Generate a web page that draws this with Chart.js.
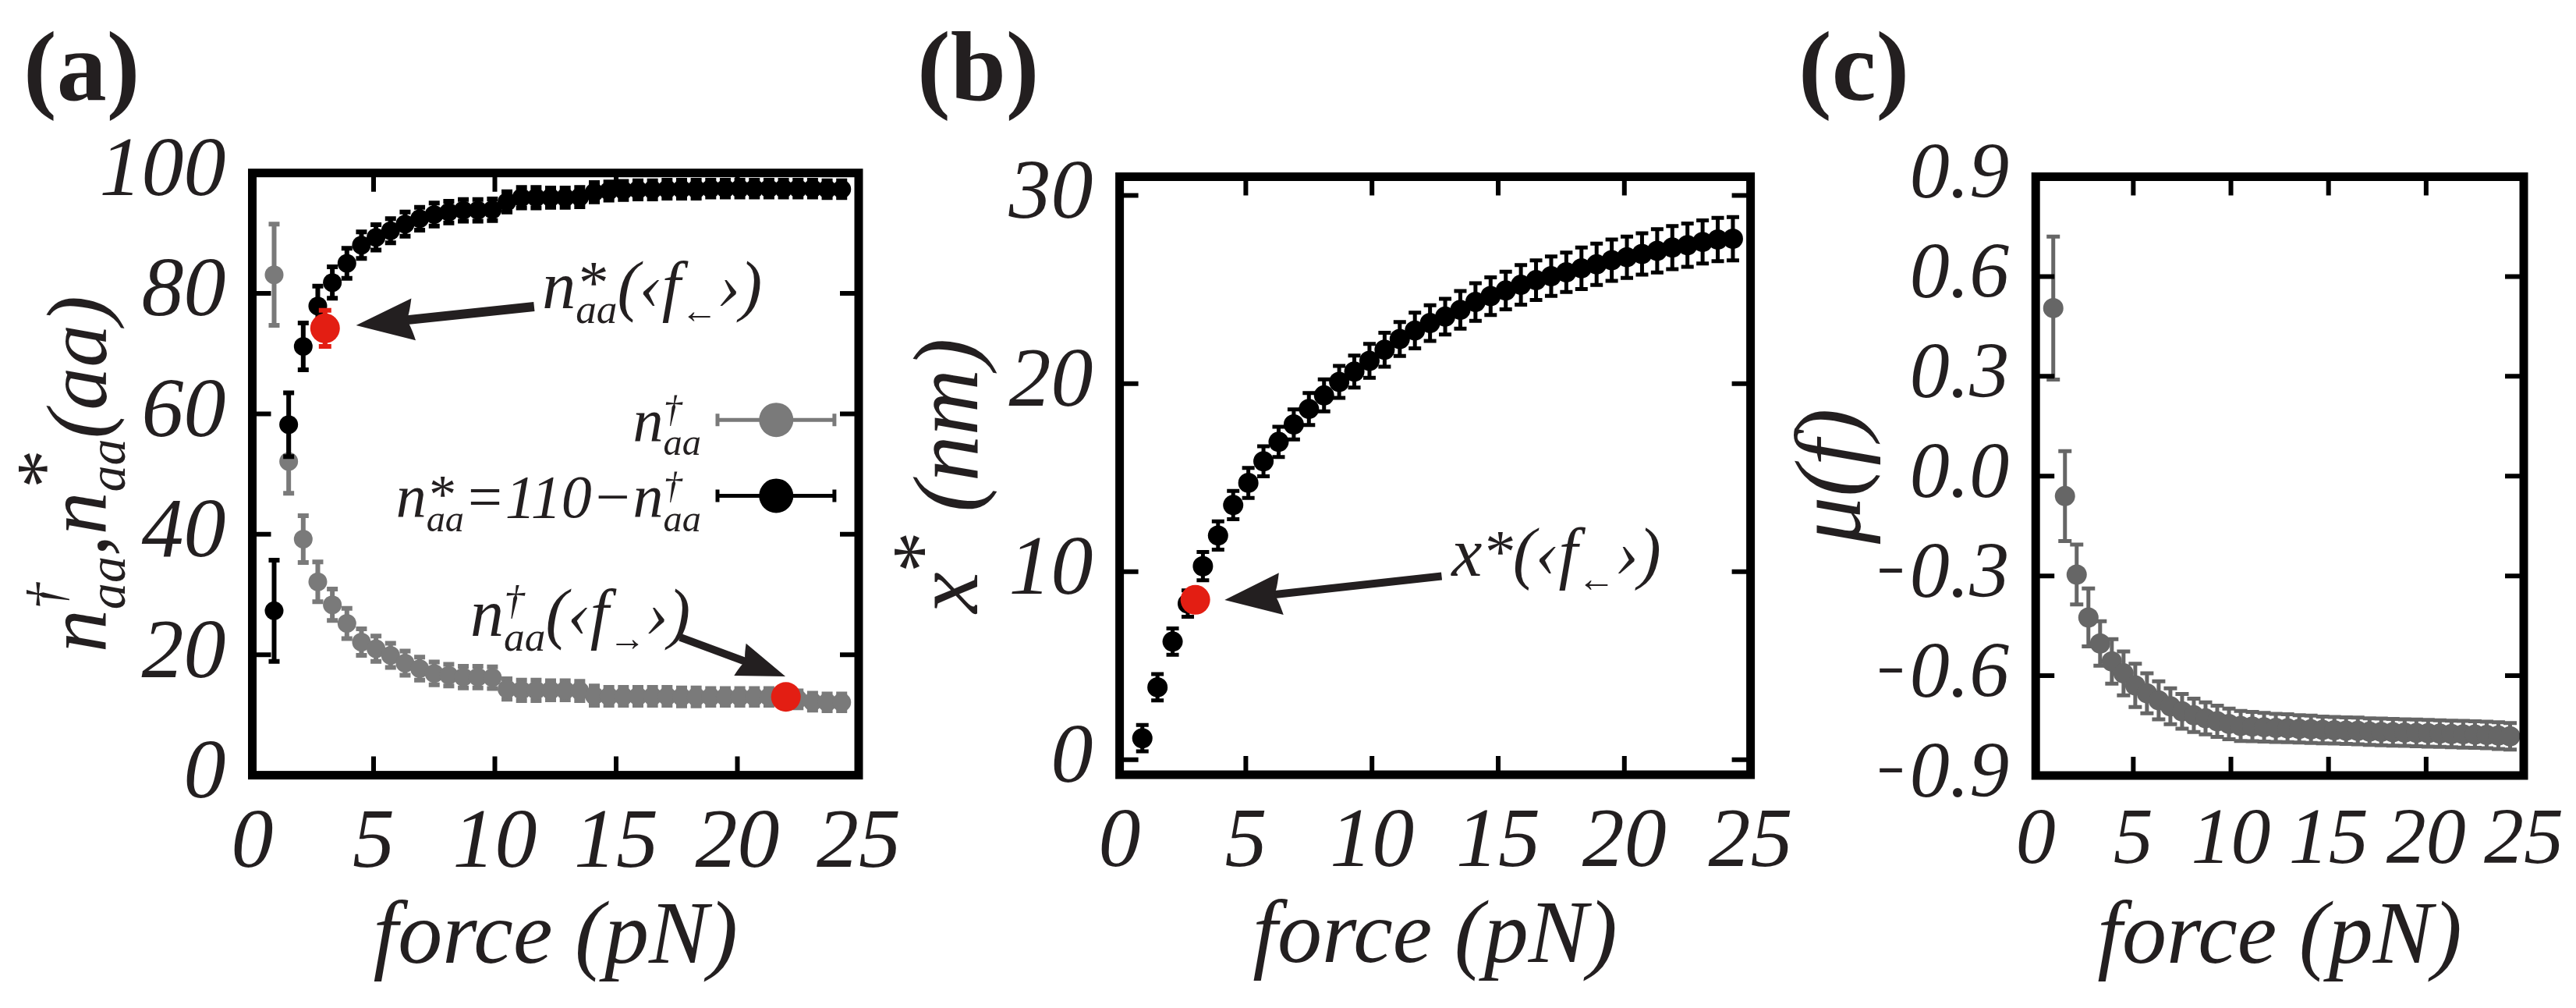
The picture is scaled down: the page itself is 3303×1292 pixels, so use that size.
<!DOCTYPE html>
<html>
<head>
<meta charset="utf-8">
<script src="https://cdn.jsdelivr.net/npm/chart.js@4.4.1/dist/chart.umd.min.js"></script>
<style>
  html, body { margin: 0; padding: 0; background: #fff; }
  #wrap { position: relative; width: 3303px; height: 1292px; }
  #wrap canvas { position: absolute; left: 0; top: 0; }
</style>
</head>
<body>
<div id="wrap">
  <canvas id="ca" width="3303" height="1292"></canvas>
  <canvas id="cb" width="3303" height="1292"></canvas>
  <canvas id="cc" width="3303" height="1292"></canvas>
</div>
<script>
// ---- data ----
const force = [0.9,1.5,2.1,2.7,3.3,3.9,4.5,5.1,5.7,6.3,6.9,7.5,8.1,8.7,9.3,9.9,10.5,11.1,11.7,12.3,
  12.9,13.5,14.1,14.7,15.3,15.9,16.5,17.1,17.7,18.3,18.9,19.5,20.1,20.7,21.3,21.9,22.5,23.1,23.7,24.3];

// (a) n_aa dagger (grey) and n_aa star (black)
const nDagger = [83.1,52.1,39.2,32.1,28.3,25.2,22.1,21.0,19.9,18.6,17.7,16.9,16.6,16.3,16.3,16.2,14.3,14.1,14.1,14.1,
  14.1,14.0,13.2,13.1,13.1,13.1,13.1,13.1,13.0,13.0,13.0,13.0,13.0,13.0,13.0,13.0,12.6,12.2,12.1,12.1];
const nStar = [27.3,58.2,71.2,77.9,81.8,85.0,88.0,89.3,90.4,91.5,92.4,93.1,93.5,93.8,93.8,93.9,95.2,95.9,95.9,95.9,
  95.9,96.0,96.8,97.0,97.1,97.2,97.2,97.3,97.3,97.3,97.4,97.4,97.4,97.4,97.4,97.4,97.4,97.4,97.3,97.3];
const errA = [8.4,5.3,3.9,3.3,2.6,2.5,2.2,2.1,2.0,2.0,1.9,1.9,1.8,1.8,1.8,1.8,1.7,1.7,1.7,1.6,
  1.6,1.6,1.6,1.5,1.5,1.5,1.5,1.5,1.5,1.5,1.4,1.4,1.4,1.4,1.4,1.4,1.4,1.4,1.4,1.4];
const redAx = [3.0, 22.0];
const redAy = [74.2, 13.0];
const redAerr = [3.0, 0];

// (b) x* (nm)
const xStar = [1.14,3.85,6.28,8.3,10.29,11.92,13.54,14.72,15.87,16.90,17.83,18.65,19.37,20.09,20.64,21.21,21.80,22.37,22.82,23.22,
  23.56,23.92,24.34,24.65,24.95,25.25,25.50,25.71,25.92,26.13,26.34,26.56,26.72,26.89,27.06,27.23,27.36,27.53,27.66,27.7];
const errB = [0.7,0.7,0.7,0.7,0.75,0.75,0.75,0.8,0.8,0.8,0.8,0.85,0.85,0.85,0.85,0.9,0.9,0.9,0.95,0.95,
  0.95,1.0,1.0,1.0,1.0,1.05,1.05,1.05,1.05,1.1,1.1,1.1,1.1,1.1,1.15,1.15,1.15,1.15,1.15,1.15];
const redBx = [3.0];
const redBy = [8.5];

// (c) mu(f)
const mu = [0.505,-0.060,-0.296,-0.425,-0.503,-0.557,-0.593,-0.629,-0.653,-0.674,-0.692,-0.707,-0.719,-0.728,-0.737,-0.745,-0.751,-0.753,-0.755,-0.757,
  -0.758,-0.760,-0.761,-0.763,-0.764,-0.765,-0.766,-0.768,-0.769,-0.770,-0.771,-0.772,-0.773,-0.774,-0.775,-0.776,-0.777,-0.778,-0.780,-0.782];
const errC = [0.215,0.135,0.09,0.087,0.067,0.067,0.066,0.065,0.06,0.057,0.054,0.052,0.05,0.048,0.047,0.046,0.045,0.044,0.043,0.042,
  0.042,0.041,0.041,0.040,0.040,0.040,0.040,0.040,0.040,0.040,0.040,0.040,0.040,0.040,0.040,0.040,0.040,0.040,0.040,0.040];

// ---- look ----
const W = 3303, H = 1292;
const SERIF = '"Liberation Serif", "Times New Roman", serif';
const INK = '#231f20';
const GREY_A = '#7a7a7a', GREY_C = '#666666', RED = '#e31e13';
const YW = 200, XH = 150;   // fixed axis box sizes so the plot areas land where they should

const ital = s => 'italic ' + s + 'px ' + SERIF;
const pts = (xs, ys) => xs.map((x, i) => ({x, y: ys[i]}));

// rich text: tokens {t, sup, sub, supSize, supDy, supDx}
function rich(ctx, tokens, x, y, size, draw) {
  let cx = x;
  tokens.forEach(tk => {
    ctx.font = ital(size);
    if (draw) ctx.fillText(tk.t, cx, y);
    cx += ctx.measureText(tk.t).width;
    let extra = 0;
    if (tk.sup) {
      const star = tk.sup === '*';
      const ss = size * (tk.supSize || (star ? 0.9 : 0.62));
      const dy = size * (tk.supDy !== undefined ? tk.supDy : (star ? -0.08 : -0.36));
      const dx = size * (tk.supDx || 0);
      ctx.font = ital(ss);
      if (draw) ctx.fillText(tk.sup, cx + dx, y + dy);
      extra = Math.max(extra, ctx.measureText(tk.sup).width + dx);
    }
    if (tk.sub) {
      ctx.font = ital(size * (tk.subSize || 0.62));
      if (draw) ctx.fillText(tk.sub, cx, y + size * 0.22);
      extra = Math.max(extra, ctx.measureText(tk.sub).width);
    }
    cx += extra;
  });
  return cx - x;
}

function arrow(ctx, x0, y0, x1, y1, len, half, shaft) {
  const a = Math.atan2(y1 - y0, x1 - x0), c = Math.cos(a), s = Math.sin(a);
  const bx = x1 - c * len, by = y1 - s * len;
  const nx = x1 - c * len * 0.86, ny = y1 - s * len * 0.86;
  ctx.save();
  ctx.strokeStyle = INK; ctx.fillStyle = INK;
  ctx.lineWidth = shaft; ctx.lineCap = 'butt';
  ctx.beginPath(); ctx.moveTo(x0, y0); ctx.lineTo(nx, ny); ctx.stroke();
  ctx.beginPath();
  ctx.moveTo(x1, y1);
  ctx.lineTo(bx - s * half, by + c * half);
  ctx.quadraticCurveTo(nx - c * 4, ny - s * 4, nx, ny);
  ctx.quadraticCurveTo(nx - c * 4, ny - s * 4, bx + s * half, by - c * half);
  ctx.closePath();
  ctx.fill();
  ctx.restore();
}

function panelLabel(ctx, txt, x) {
  ctx.save();
  ctx.fillStyle = INK;
  ctx.font = 'bold 128px ' + SERIF;
  ctx.textBaseline = 'alphabetic';
  ctx.fillText(txt, x, 128);
  ctx.restore();
}

function xTitle(chart) {
  const {ctx, chartArea: a} = chart;
  ctx.save();
  ctx.fillStyle = INK;
  ctx.font = ital(114);
  ctx.textAlign = 'center';
  ctx.fillText('force (pN)', (a.left + a.right) / 2, a.bottom + 240);
  ctx.restore();
}

function yTitle(chart, tokens, size, gap) {
  const {ctx, chartArea: a} = chart;
  ctx.save();
  ctx.fillStyle = INK;
  const w = rich(ctx, tokens, 0, 0, size, false);
  ctx.translate(a.left - gap, (a.top + a.bottom) / 2);
  ctx.rotate(-Math.PI / 2);
  rich(ctx, tokens, -w / 2, 0, size, true);
  ctx.restore();
}

// error bars drawn right before each dataset's markers
const errorBars = {
  id: 'errorBars',
  beforeDatasetDraw(chart, args) {
    const ds = chart.data.datasets[args.index];
    if (!ds.errors) return;
    const {ctx, scales: {x, y}} = chart;
    ctx.save();
    ctx.strokeStyle = ds.backgroundColor;
    ctx.lineWidth = ds.errWidth;
    ctx.beginPath();
    ds.data.forEach((p, i) => {
      const e = ds.errors[i];
      if (!e) return;
      const px = x.getPixelForValue(p.x);
      const t = y.getPixelForValue(p.y + e), b = y.getPixelForValue(p.y - e);
      const c = ds.capHalf;
      ctx.moveTo(px, t); ctx.lineTo(px, b);
      ctx.moveTo(px - c, t); ctx.lineTo(px + c, t);
      ctx.moveTo(px - c, b); ctx.lineTo(px + c, b);
    });
    ctx.stroke();
    ctx.restore();
  }
};

// closed box with inward ticks on all four sides
const frame = {
  id: 'frame',
  afterDatasetsDraw(chart) {
    const {ctx, chartArea: a, scales: {x, y}} = chart;
    const TL = 24, eps = 1e-6;
    ctx.save();
    ctx.strokeStyle = '#000';
    ctx.lineWidth = 6;
    ctx.beginPath();
    x.ticks.forEach(t => {
      if (t.value <= x.min + eps || t.value >= x.max - eps) return;
      const px = x.getPixelForValue(t.value);
      ctx.moveTo(px, a.bottom); ctx.lineTo(px, a.bottom - TL);
      ctx.moveTo(px, a.top); ctx.lineTo(px, a.top + TL);
    });
    y.ticks.forEach(t => {
      if (t.value <= y.min + eps || t.value >= y.max - eps) return;
      const py = y.getPixelForValue(t.value);
      ctx.moveTo(a.left, py); ctx.lineTo(a.left + TL, py);
      ctx.moveTo(a.right, py); ctx.lineTo(a.right - TL, py);
    });
    ctx.stroke();
    ctx.lineWidth = 11;
    ctx.strokeRect(a.left, a.top, a.right - a.left, a.bottom - a.top);
    ctx.restore();
  }
};

function makePanel(id, g, yOpts, tickSize, datasets, draw) {
  const font = {family: SERIF, style: 'italic', size: tickSize};
  return new Chart(document.getElementById(id), {
    type: 'scatter',
    data: {datasets},
    options: {
      responsive: false,
      animation: false,
      events: [],
      layout: {padding: {left: g.left - YW, top: g.top, right: W - g.right, bottom: H - g.bottom - XH}},
      plugins: {legend: {display: false}, tooltip: {enabled: false}},
      scales: {
        x: {
          type: 'linear', position: 'bottom', min: 0, max: 25,
          grid: {display: false}, border: {display: false},
          ticks: {stepSize: 5, autoSkip: false, maxRotation: 0, padding: 16, color: INK, font},
          afterFit: s => { s.height = XH; }
        },
        y: {
          type: 'linear', position: 'left', min: yOpts.min, max: yOpts.max,
          grid: {display: false}, border: {display: false},
          ticks: Object.assign({stepSize: yOpts.step, autoSkip: false, includeBounds: false, padding: 26, color: INK, font},
                               yOpts.callback ? {callback: yOpts.callback} : {}),
          afterFit: s => { s.width = YW; }
        }
      }
    },
    plugins: [errorBars, frame, {id: 'overlay', afterDraw: draw}]
  });
}

function series(data, color, r, errors, errWidth, capHalf) {
  return {data, backgroundColor: color, pointRadius: r, pointBorderWidth: 0, pointHoverRadius: r,
          showLine: false, clip: false, errors, errWidth, capHalf};
}

// ---- panel (a) ----
const tokStarA = [{t: 'n', sup: '*', sub: 'aa'}, {t: '(\u2039'}, {t: 'f', sub: '\u2190', subSize: 0.55}, {t: '\u203A)'}];
const tokDagA = [{t: 'n', sup: '\u2020', sub: 'aa', supDy: -0.33}, {t: '(\u2039'}, {t: 'f', sub: '\u2192', subSize: 0.55}, {t: '\u203A)'}];
const tokLegGrey = [{t: 'n', sup: '\u2020', sub: 'aa', supDy: -0.33}];
const tokLegBlack = [{t: 'n', sup: '*', sub: 'aa'}, {t: '=110\u2212'}, {t: 'n', sup: '\u2020', sub: 'aa', supDy: -0.33}];
const tokTitleA = [{t: 'n', sup: '\u2020', sub: 'aa', supDy: -0.5}, {t: ','}, {t: 'n', sup: '*', sub: 'aa', supDy: -0.42}, {t: '(aa)'}];

function legendRow(ctx, X, Y, yv, color, tokens) {
  const yy = Y(yv);
  ctx.save();
  ctx.strokeStyle = color; ctx.fillStyle = color; ctx.lineWidth = 5;
  const x0 = X(19.18), x1 = X(24.0);
  ctx.beginPath();
  ctx.moveTo(x0, yy); ctx.lineTo(x1, yy);
  ctx.moveTo(x0, yy - 8); ctx.lineTo(x0, yy + 8);
  ctx.moveTo(x1, yy - 8); ctx.lineTo(x1, yy + 8);
  ctx.stroke();
  ctx.beginPath(); ctx.arc(X(21.6), yy, 22, 0, Math.PI * 2); ctx.fill();
  ctx.fillStyle = INK;
  const w = rich(ctx, tokens, 0, 0, 78, false);
  rich(ctx, tokens, X(18.5) - w, yy + 28, 78, true);
  ctx.restore();
}

makePanel('ca', {left: 323.5, right: 1101, top: 221.7, bottom: 993.6},
  {min: 0, max: 100, step: 20}, 108,
  [
    series(pts(redAx, redAy), RED, 19, redAerr, 6, 8),
    series(pts(force, nStar), '#000000', 12, errA, 6, 7),
    series(pts(force, nDagger), GREY_A, 12, errA, 6, 7)
  ],
  chart => {
    const {ctx, scales: {x, y}} = chart;
    const X = v => x.getPixelForValue(v), Y = v => y.getPixelForValue(v);
    ctx.save();
    ctx.fillStyle = INK;
    rich(ctx, tokStarA, X(11.95), Y(77.5), 86, true);
    rich(ctx, tokDagA, X(8.99), Y(23.1), 86, true);
    ctx.restore();
    arrow(ctx, X(11.62), Y(77.8), X(4.28), Y(74.7), 74, 27, 12);
    arrow(ctx, X(17.64), Y(22.9), X(21.98), Y(16.4), 62, 22, 10);
    legendRow(ctx, X, Y, 59.0, GREY_A, tokLegGrey);
    legendRow(ctx, X, Y, 46.4, '#000000', tokLegBlack);
    xTitle(chart);
    yTitle(chart, tokTitleA, 110, 188);
    panelLabel(ctx, '(a)', 30);
  });

// ---- panel (b) ----
const tokStarB = [{t: 'x', sup: '*', supDy: -0.06}, {t: '(\u2039'}, {t: 'f', sub: '\u2190', subSize: 0.55}, {t: '\u203A)'}];
const tokTitleB = [{t: 'x', sup: '*', supDy: -0.3, supDx: -0.05}, {t: ' (nm)'}];

makePanel('cb', {left: 1435.6, right: 2244.6, top: 226.5, bottom: 993},
  {min: -0.8, max: 31, step: 10}, 108,
  [
    series(pts(redBx, redBy), RED, 19, null, 5, 8),
    series(pts(force, xStar), '#000000', 13, errB, 5, 8)
  ],
  chart => {
    const {ctx, scales: {x, y}} = chart;
    const X = v => x.getPixelForValue(v), Y = v => y.getPixelForValue(v);
    ctx.save();
    ctx.fillStyle = INK;
    rich(ctx, tokStarB, X(13.15), Y(9.77), 88, true);
    ctx.restore();
    arrow(ctx, X(12.76), Y(9.76), X(4.16), Y(8.49), 73, 27, 10);
    xTitle(chart);
    yTitle(chart, tokTitleB, 118, 183);
    panelLabel(ctx, '(b)', 1176);
  });

// ---- panel (c) ----
const tokTitleC = [{t: '\u03BC(f)'}];

makePanel('cc', {left: 2610.2, right: 3239, top: 226.5, bottom: 994},
  {min: -0.9, max: 0.9, step: 0.3, callback: v => (Math.abs(v) < 1e-9 ? '0.0' : v.toFixed(1).replace('-', '\u2212'))}, 102,
  [
    series(pts(force, mu), GREY_C, 13, errC, 5, 8.5)
  ],
  chart => {
    const {ctx} = chart;
    xTitle(chart);
    yTitle(chart, tokTitleC, 120, 225);
    panelLabel(ctx, '(c)', 2306);
  });
</script>
</body>
</html>
